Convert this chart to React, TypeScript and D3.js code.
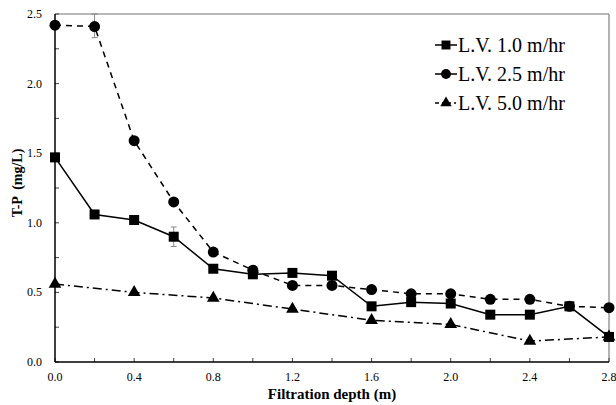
import * as d3 from 'd3';
import React, { useRef, useEffect } from 'react';

const depth = [0.0, 0.2, 0.4, 0.6, 0.8, 1.0, 1.2, 1.4, 1.6, 1.8, 2.0, 2.2, 2.4, 2.6, 2.8];
const lv10 = [1.47, 1.06, 1.02, 0.90, 0.67, 0.63, 0.64, 0.62, 0.40, 0.43, 0.42, 0.34, 0.34, 0.40, 0.18];
const lv25 = [2.42, 2.41, 1.59, 1.15, 0.79, 0.66, 0.55, 0.55, 0.52, 0.49, 0.49, 0.45, 0.45, 0.40, 0.39];
const depth50 = [0.0, 0.4, 0.8, 1.2, 1.6, 2.0, 2.4, 2.8];
const lv50 = [0.56, 0.50, 0.46, 0.38, 0.30, 0.27, 0.15, 0.18];
// error bars: [depth, value, low, high]
const errBars = [
  [0.2, 2.41, 2.33, 2.5],
  [0.6, 0.90, 0.83, 0.97],
];
const xTicks = [0.0, 0.4, 0.8, 1.2, 1.6, 2.0, 2.4, 2.8];
const yTicks = [0.0, 0.5, 1.0, 1.5, 2.0, 2.5];
const legendLabels = ['L.V. 1.0 m/hr', 'L.V. 2.5 m/hr', 'L.V. 5.0 m/hr'];

function Chart({ width, height }) {
  const ref = useRef();

  useEffect(() => {
    draw();
  }, []);

  const draw = () => {
    const svg = d3.select(ref.current);
    svg.selectAll('*').remove();

    const margin = { top: 14, right: 7, bottom: 43, left: 55 };
    const w = width - margin.left - margin.right;
    const h = height - margin.top - margin.bottom;
    const font = "'Liberation Serif', 'Times New Roman', serif";

    const g = svg.append('g').attr('transform', `translate(${margin.left},${margin.top})`)
      .style('font-family', font);

    const x = d3.scaleLinear().domain([0, 2.8]).range([0, w]);
    const y = d3.scaleLinear().domain([0, 2.5]).range([h, 0]);

    // frame top/right
    g.append('line').attr('x1', 0).attr('x2', w).attr('y1', 0).attr('y2', 0)
      .attr('stroke', '#a0a0a0').attr('stroke-width', 1.5);
    g.append('line').attr('x1', w).attr('x2', w).attr('y1', 0).attr('y2', h)
      .attr('stroke', '#808080').attr('stroke-width', 1.2);

    // minor/major ticks inside
    g.selectAll('.xt').data(d3.range(0, 15).map(i => i * 0.2)).enter().append('line')
      .attr('x1', d => x(d)).attr('x2', d => x(d)).attr('y1', h).attr('y2', h - 4)
      .attr('stroke', '#444').attr('stroke-width', 1);
    g.selectAll('.yt').data(d3.range(0, 11).map(i => i * 0.25)).enter().append('line')
      .attr('x1', 0).attr('x2', 4).attr('y1', d => y(d)).attr('y2', d => y(d))
      .attr('stroke', '#444').attr('stroke-width', 1);

    // axes
    g.append('line').attr('x1', 0).attr('x2', w).attr('y1', h).attr('y2', h)
      .attr('stroke', 'black').attr('stroke-width', 1.5);
    g.append('line').attr('x1', 0).attr('x2', 0).attr('y1', 0).attr('y2', h)
      .attr('stroke', 'black').attr('stroke-width', 1.5);

    g.selectAll('.xl').data(xTicks).enter().append('text')
      .attr('x', d => x(d)).attr('y', h + 19)
      .attr('text-anchor', 'middle').style('font-size', '12px')
      .text(d => d.toFixed(1));
    g.selectAll('.yl').data(yTicks).enter().append('text')
      .attr('x', -13).attr('y', d => y(d) + 4)
      .attr('text-anchor', 'end').style('font-size', '12px')
      .text(d => d.toFixed(1));

    g.append('text').attr('x', w / 2).attr('y', h + 37)
      .attr('text-anchor', 'middle').style('font-size', '15px')
      .style('font-weight', 'bold').text('Filtration depth (m)');
    g.append('text')
      .attr('transform', `translate(${-33},${(h / 2) - 5}) rotate(-90)`)
      .attr('text-anchor', 'middle').style('font-size', '14px')
      .style('font-weight', 'bold').attr('xml:space', 'preserve').text('T-P  (mg/L)');

    // error bars
    errBars.forEach(([d, v, lo, hi]) => {
      g.append('line').attr('x1', x(d)).attr('x2', x(d)).attr('y1', y(lo)).attr('y2', y(hi))
        .attr('stroke', '#888').attr('stroke-width', 1);
      [lo, hi].forEach(e => {
        g.append('line').attr('x1', x(d) - 3).attr('x2', x(d) + 3).attr('y1', y(e)).attr('y2', y(e))
          .attr('stroke', '#888').attr('stroke-width', 1);
      });
    });

    const line = d3.line().x(d => x(d[0])).y(d => y(d[1]));
    const series = [
      { xs: depth, ys: lv10, dash: null, sym: d3.symbolSquare, size: 100 },
      { xs: depth, ys: lv25, dash: '6,5', sym: d3.symbolCircle, size: 95 },
      { xs: depth50, ys: lv50, dash: '9,4,2,4', sym: d3.symbolTriangle, size: 70 },
    ];

    const order = [2, 0, 1];
    order.forEach(i => {
      const s = series[i];
      const pts = s.xs.map((d, j) => [d, s.ys[j]]);
      g.append('path').datum(pts).attr('d', line).attr('fill', 'none')
        .attr('stroke', 'black').attr('stroke-width', 1.5)
        .attr('stroke-dasharray', s.dash);
    });
    order.forEach(i => {
      const s = series[i];
      const pts = s.xs.map((d, j) => [d, s.ys[j]]);
      g.selectAll(null).data(pts).enter().append('path')
        .attr('d', d3.symbol().type(s.sym).size(s.size))
        .attr('transform', d => `translate(${x(d[0])},${y(d[1])})`)
        .attr('fill', 'black');
    });

    // legend
    const lg = g.append('g').attr('transform', `translate(${380},${31})`);
    legendLabels.forEach((lab, i) => {
      const s = series[i];
      const yy = i * 29;
      lg.append('line').attr('x1', 0).attr('x2', 22).attr('y1', yy).attr('y2', yy)
        .attr('stroke', 'black').attr('stroke-width', 1.5)
        .attr('stroke-dasharray', i === 2 ? '4,3,2,3' : null);
      lg.append('path').attr('d', d3.symbol().type(s.sym).size(s.size * 0.8))
        .attr('transform', `translate(11,${yy})`).attr('fill', 'black');
      lg.append('text').attr('x', 23).attr('y', yy + 7)
        .style('font-size', '20px').text(lab);
    });
  };

  return (
    <svg ref={ref} width={width} height={height} style={{ display: 'block' }}></svg>
  );
}

export default function App() {
  return (
    <div style={{ position: 'absolute', left: 0, top: 0 }}>
      <Chart width={616} height={405} />
    </div>
  );
}
